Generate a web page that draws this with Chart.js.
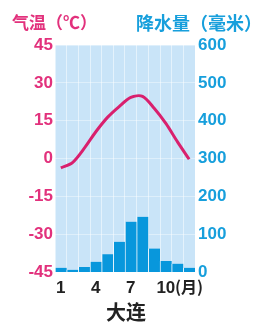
<!DOCTYPE html>
<html>
	<head>
		<meta charset="utf-8">
		<title>大连</title>
		<style type="text/css">
			body{margin: 0;background: #fff;}
			.container{position: relative;width: 265px;height: 325px;}
			.lbl{position: absolute;font-family: "Noto Sans CJK SC", sans-serif;font-weight: bold;white-space: nowrap;line-height: 1;}
			#t-left{left: 12px;top: 13px;font-size: 17px;color: #e2317c;}
			#t-right{left: 136px;top: 13px;font-size: 18px;color: #179fdc;}
			#t-month{left: 175px;top: 278px;font-size: 16px;color: #222;}
			#t-city{left: 106px;top: 302px;font-size: 20px;color: #222;}
		</style>
	</head>
	<body>
		<div class="container">
			<canvas id="chart-climate" width="265" height="325"></canvas>
			<div class="lbl" id="t-left">气温（℃）</div>
			<div class="lbl" id="t-right">降水量（毫米）</div>
			<div class="lbl" id="t-month">(月)</div>
			<div class="lbl" id="t-city">大连</div>
		</div>
		<script src="https://cdn.jsdelivr.net/npm/chart.js@4"></script>
		<script type="text/javascript">
			// 月份（只显示 1、4、7、10）
			let months=['1','2','3','4','5','6','7','8','9','10','11','12'];
			let month_labels=['1','','','4','','','7','','','10','',''];
			// 气温 ℃
			let temp_data=[-3.7,-1.6,4,10.6,16.3,20.6,24.2,24.6,19.9,13.9,6.6,-0.3];
			// 降水量 毫米
			let rain_data=[11,6,13,27,47,80,133,146,62,29,22,11];
			// 坐标刻度
			let temp_ticks=[-45,-30,-15,0,15,30,45];
			let rain_ticks=[0,100,200,300,400,500,600];

			let numFont={family: '"Liberation Sans", Arial, sans-serif',size: 17,weight: 'bold'};

			//绘图区背景
			let bgPlugin={
				id: 'bg',
				beforeDraw: function(chart){
					let a=chart.chartArea;
					let ctx=chart.ctx;
					ctx.save();
					ctx.fillStyle='#c9e4f8';
					ctx.fillRect(a.left,a.top,a.right-a.left,a.bottom-a.top);
					ctx.restore();
				}
			};

			new Chart(document.getElementById('chart-climate'),{
				type: 'bar',
				data: {
					labels: months,
					datasets: [{
						type: 'line',
						data: temp_data,
						yAxisID: 'y',
						borderColor: '#d9206e',
						borderWidth: 3,
						pointRadius: 0,
						tension: 0.3,
						order: 0
					},{
						type: 'bar',
						data: rain_data,
						yAxisID: 'y1',
						backgroundColor: '#0897dc',
						borderColor: 'rgba(255,255,255,0.6)',
						borderWidth: {left: 1,right: 0,top: 0,bottom: 0},
						barPercentage: 1,
						categoryPercentage: 1,
						order: 1
					}]
				},
				options: {
					responsive: false,
					animation: false,
					layout: {padding: {left: 0,top: 45,right: 0,bottom: 28}},
					plugins: {legend: {display: false},tooltip: {enabled: false}},
					scales: {
						x: {
							offset: true,
							grid: {offset: true,color: 'rgba(255,255,255,0.5)',lineWidth: 1,drawTicks: false},
							border: {display: false},
							ticks: {
								color: '#222',font: numFont,padding: 6,maxRotation: 0,autoSkip: false,
								callback: function(v,i){return month_labels[i];}
							},
							afterFit: function(s){s.height=25;}
						},
						y: {
							position: 'left',
							min: temp_ticks[0],
							max: temp_ticks[temp_ticks.length-1],
							grid: {color: 'rgba(255,255,255,0.4)',lineWidth: 1,drawTicks: false},
							border: {display: false},
							ticks: {
								stepSize: 15,color: '#e2317c',font: numFont,padding: 2,
								callback: function(v){return temp_ticks.indexOf(v)>=0?v:'';}
							},
							afterFit: function(s){s.width=55;}
						},
						y1: {
							position: 'right',
							min: rain_ticks[0],
							max: rain_ticks[rain_ticks.length-1],
							grid: {display: false,drawTicks: false},
							border: {display: false},
							ticks: {stepSize: 100,color: '#179fdc',font: numFont,padding: 3},
							afterFit: function(s){s.width=70;}
						}
					}
				},
				plugins: [bgPlugin]
			});
		</script>
	</body>
</html>
